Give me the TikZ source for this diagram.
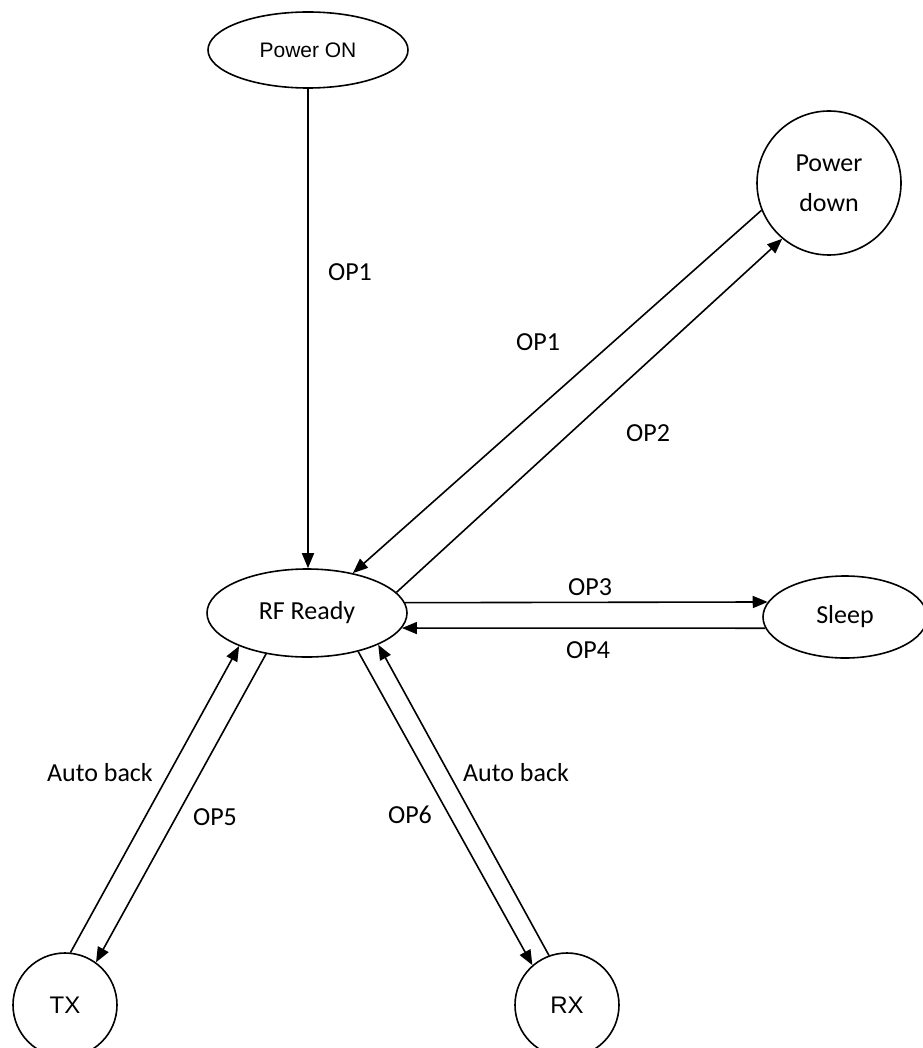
\documentclass[tikz,border=0pt]{standalone}
\usepackage{fontspec}
\setmainfont{Carlito}
\newfontfamily\arialfont{Liberation Sans}
\usetikzlibrary{shapes.geometric,arrows.meta}
\tikzset{
  every picture/.style={line width=1.6pt},
  stateell/.style={draw, ellipse, inner sep=0pt},
  statecirc/.style={draw, circle, inner sep=0pt},
  cal/.style={font=\fontsize{26}{40}\selectfont, align=center},
  ari/.style={font=\arialfont\fontsize{21}{25}\selectfont},
  arib/.style={font=\arialfont\fontsize{24}{28}\selectfont},
  lbl/.style={font=\fontsize{26}{30}\selectfont, inner sep=0pt},
  arr/.style={-{Triangle[length=15pt,width=12pt]}}
}
\begin{document}
\begin{tikzpicture}[x=1pt,y=-1pt]
\useasboundingbox (0,0) rectangle (922,1048);
\node[stateell, ari, minimum width=200pt, minimum height=76pt] (pon) at (308,50) {Power ON};
\node[statecirc, cal, minimum size=144pt] (pd) at (829,183) {Power\\down};
\node[stateell, cal, minimum width=200pt, minimum height=88pt] (rf) at (307,613) {RF Ready};
\node[stateell, cal, minimum width=164pt, minimum height=82pt] (sl) at (845,617) {Sleep};
\node[statecirc, arib, minimum size=104pt] (tx) at (65,1005) {TX};
\node[statecirc, arib, minimum size=104pt] (rx) at (567,1005) {RX};

% Power ON -> RF Ready
\draw[arr] (pon.south) -- (pon.south |- rf.north);
% Power down <-> RF Ready
\draw[arr] (pd.202) -- (rf.41);
\draw[arr] (rf.13) -- (pd.230);
% RF Ready <-> Sleep
\draw[arr] (rf.6.5) -- (sl.169);
\draw[arr] (sl.188) -- (rf.-9);
% RF Ready <-> TX
\draw[arr] (rf.225) -- (tx.54.5);
\draw[arr] (tx.84.5) -- (rf.206.5);
% RF Ready <-> RX
\draw[arr] (rf.-37.3) -- (rx.131.4);
\draw[arr] (rx.110.8) -- (rf.-24.2);

% labels
\node[lbl] (l1) at (350,272) {OP1};
\node[lbl] (l2) at (538,342) {OP1};
\node[lbl] (l3) at (648,433) {OP2};
\node[lbl] (l4) at (590,587) {OP3};
\node[lbl] (l5) at (588,650) {OP4};
\node[lbl] (l6) at (100,773) {Auto back};
\node[lbl] (l7) at (215,817) {OP5};
\node[lbl] (l8) at (410,815) {OP6};
\node[lbl] (l9) at (516,773) {Auto back};
\end{tikzpicture}
\end{document}
